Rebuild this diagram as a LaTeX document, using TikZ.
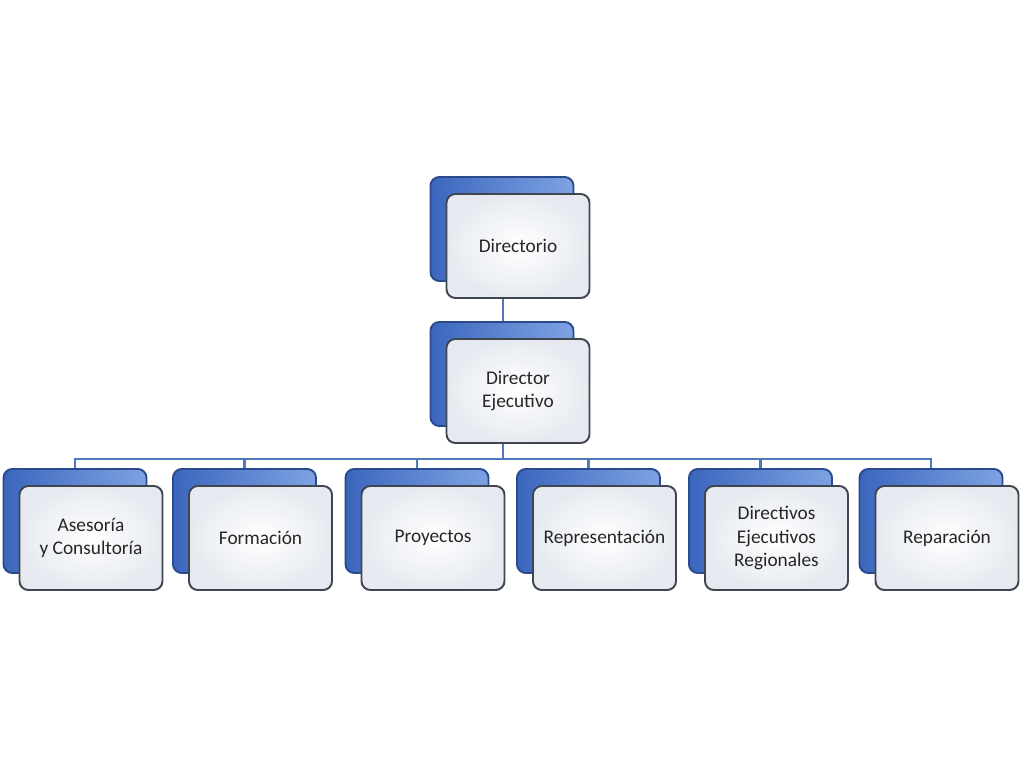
\documentclass[tikz,border=0pt]{standalone}
\usepackage{fontspec}
\setmainfont{Carlito}
\usetikzlibrary{shadows,calc}
\definecolor{framegray}{HTML}{3F4652}
\definecolor{backnavy}{HTML}{2B4A8B}
\definecolor{backdark}{HTML}{3B66BD}
\definecolor{backlight}{HTML}{7EA3E3}
\definecolor{paleblue}{HTML}{E6EAF0}
\definecolor{linkblue}{HTML}{5079BD}
\definecolor{inkgray}{HTML}{262626}
\begin{document}
\begin{tikzpicture}[
    unit/.style={draw=framegray, line width=1.1pt, rounded corners=5pt,
      minimum width=2.86cm, minimum height=2.08cm, inner color=white, outer color=paleblue,
      align=center, text=inkgray, font=\fontsize{11}{13.4}\selectfont,
      copy shadow={shadow xshift=-0.32cm, shadow yshift=0.34cm, draw=backnavy,
        left color=backdark, right color=backlight, line width=1.1pt}},
    link/.style={draw=linkblue, line width=1.5pt}]
      \useasboundingbox (0,0) rectangle (20.48,15.36);

      \node[unit] (dir) at (10.36,10.44) {Directorio};
      \node[unit] (de) at (10.36,7.54) {Director\\Ejecutivo};

      \node[unit] (ase) at (1.82,4.6) {Asesoría\\y Consultoría};
      \node[unit] (for) at (5.21,4.6) {Formación};
      \node[unit] (pro) at (8.66,4.6) {Proyectos};
      \node[unit] (rep) at (12.09,4.6) {Representación};
      \node[unit] (reg) at (15.53,4.6) {Directivos\\Ejecutivos\\Regionales};
      \node[unit] (repa) at (18.94,4.6) {Reparación};

      \coordinate (bus) at ($(de.south)+(-0.3,-0.3)$);
      \draw[link] ([xshift=-0.3cm]dir.south) -- ([xshift=-0.3cm,yshift=0.34cm]de.north);
      \draw[link] ([xshift=-0.3cm]de.south) -- (bus);
      \foreach \n in {ase,for,pro,rep,reg,repa}
        \draw[link] ([xshift=-0.32cm,yshift=0.34cm]\n.north) |- (bus);
    \end{tikzpicture}
\end{document}
